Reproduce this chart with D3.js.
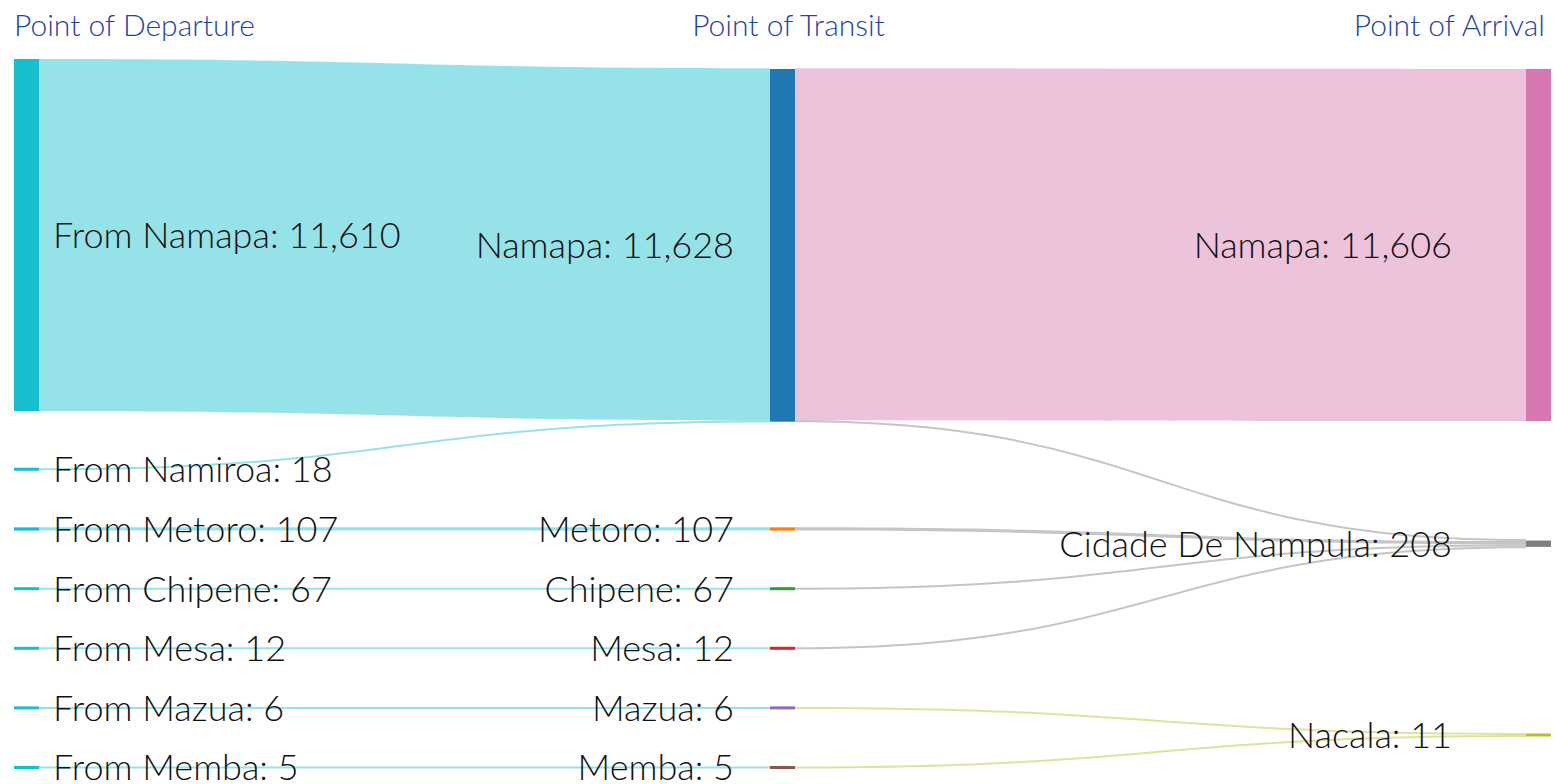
<!DOCTYPE html>
<html>
<head>
<meta charset="utf-8">
<script src="https://cdn.jsdelivr.net/npm/d3@7"></script>
<style>
  body { margin: 0; background: #fff; }
  svg text { font-family: Lato, "Open Sans", sans-serif; font-weight: 300; }
</style>
</head>
<body>
<div id="chart"></div>
<script>
// column titles
var stageTitles = ["Point of Departure", "Point of Transit", "Point of Arrival"];

// nodes per column
var departure = ["From Namapa", "From Namiroa", "From Metoro", "From Chipene", "From Mesa", "From Mazua", "From Memba"];
var transit = ["Namapa", "Metoro", "Chipene", "Mesa", "Mazua", "Memba"];
var arrival = ["Namapa", "Cidade De Nampula", "Nacala"];

// departure -> transit flows (indices into the arrays above)
var leg1Source = [0, 1, 2, 3, 4, 5, 6];
var leg1Target = [0, 0, 1, 2, 3, 4, 5];
var leg1Value = [11610, 18, 107, 67, 12, 6, 5];

// transit -> arrival flows
var leg2Source = [0, 0, 1, 2, 3, 4, 5];
var leg2Target = [0, 1, 1, 1, 1, 2, 2];
var leg2Value = [11606, 22, 107, 67, 12, 6, 5];

var departureColor = "#17becf";
var transitColors = ["#1f77b4", "#ff7f0e", "#2ca02c", "#d62728", "#9467bd", "#8c564b"];
var arrivalColors = ["#d678b0", "#7f7f7f", "#bcbd22"];

var width = 1555, height = 784;
var yTop = 59, yBottom = 769, colInset = 10;
var nodeW = 25, pad = 56.6, minNode = 3, minLink = 2;

var svg = d3.select("#chart").append("svg")
    .attr("width", width)
    .attr("height", height);

var colX = d3.scaleLinear().domain([0, 2]).range([14, width - 4 - nodeW]);

// build the graph
var columns = [departure, transit, arrival].map(function(names, c) {
    return names.map(function(n, i) {
        return { name: n, col: c, index: i, inLinks: [], outLinks: [] };
    });
});
columns[0].forEach(function(n) { n.color = departureColor; });
columns[1].forEach(function(n, i) { n.color = transitColors[i]; });
columns[2].forEach(function(n, i) { n.color = arrivalColors[i]; });

var links = [];
function addLinks(c, src, tgt, val) {
    src.forEach(function(s, i) {
        var l = { source: columns[c][s], target: columns[c + 1][tgt[i]], value: val[i], leg: c };
        l.source.outLinks.push(l);
        l.target.inLinks.push(l);
        links.push(l);
    });
}
addLinks(0, leg1Source, leg1Target, leg1Value);
addLinks(1, leg2Source, leg2Target, leg2Value);

columns.forEach(function(col) {
    col.forEach(function(n) {
        n.value = Math.max(d3.sum(n.inLinks, function(l) { return l.value; }),
                           d3.sum(n.outLinks, function(l) { return l.value; }));
        n.x0 = colX(n.col);
        n.x1 = n.x0 + nodeW;
    });
});

// find the value->pixel factor so the first column just fits
function packedHeight(k) {
    return d3.sum(columns[0], function(n) { return Math.max(minNode, n.value * k); }) +
        (columns[0].length - 1) * pad;
}
var lo = 0, hi = 1;
for (var it = 0; it < 60; it++) {
    var mid = (lo + hi) / 2;
    if (packedHeight(mid) > yBottom - yTop) hi = mid; else lo = mid;
}
var h = d3.scaleLinear().domain([0, 1]).range([0, lo]);

columns.forEach(function(col) {
    col.forEach(function(n) { n.h = Math.max(minNode, h(n.value)); });
});
links.forEach(function(l) { l.width = Math.max(minLink, h(l.value)); });

function placeOutLinks(n) {
    var stack = d3.sum(n.outLinks, function(l) { return l.width; });
    var y = n.y0 + (n.h - stack) / 2;
    n.outLinks.forEach(function(l) { l.sy0 = y; y += l.width; l.sy1 = y; });
}
function placeInLinks(n) {
    var stack = d3.sum(n.inLinks, function(l) { return l.width; });
    var y = n.y0 + (n.h - stack) / 2;
    n.inLinks.forEach(function(l) { l.ty0 = y; y += l.width; l.ty1 = y; });
}

// first column: stacked from the top
var y = yTop;
columns[0].forEach(function(n) {
    n.y0 = y; n.y1 = y + n.h; y = n.y1 + pad;
    placeOutLinks(n);
});

// later columns: centre each node on the flows that feed it,
// keep them a little below the top edge
for (var c = 1; c < columns.length; c++) {
    var col = columns[c];
    col.forEach(function(n) {
        var w = d3.sum(n.inLinks, function(l) { return l.value; });
        var cy = d3.sum(n.inLinks, function(l) { return (l.sy0 + l.sy1) / 2 * l.value; }) / w;
        n.y0 = cy - n.h / 2; n.y1 = n.y0 + n.h;
    });
    var sorted = col.slice().sort(function(a, b) { return a.y0 - b.y0; });
    var yy = yTop + colInset;
    sorted.forEach(function(n) {
        if (n.y0 < yy) { n.y0 = yy; n.y1 = yy + n.h; }
        yy = n.y1 + pad;
    });
    col.forEach(function(n) { placeInLinks(n); placeOutLinks(n); });
}

function ribbon(l) {
    var x0 = l.source.x1, x1 = l.target.x0, xm = (x0 + x1) / 2;
    var p = d3.path();
    p.moveTo(x0, l.sy0);
    p.bezierCurveTo(xm, l.sy0, xm, l.ty0, x1, l.ty0);
    p.lineTo(x1, l.ty1);
    p.bezierCurveTo(xm, l.ty1, xm, l.sy1, x0, l.sy1);
    p.closePath();
    return p.toString();
}

svg.append("g").selectAll("path")
    .data(links)
    .enter()
    .append("path")
    .attr("d", ribbon)
    .attr("fill", function(l) { return l.leg === 0 ? l.source.color : l.target.color; })
    .attr("fill-opacity", 0.45);

var allNodes = [].concat(columns[0], columns[1], columns[2]);

svg.append("g").selectAll("rect")
    .data(allNodes)
    .enter()
    .append("rect")
    .attr("x", function(n) { return n.x0; })
    .attr("y", function(n) { return n.y0; })
    .attr("width", nodeW)
    .attr("height", function(n) { return n.h; })
    .attr("fill", function(n) { return n.color; });

var fmt = d3.format(",");
svg.append("g").selectAll("text")
    .data(allNodes)
    .enter()
    .append("text")
    .attr("x", function(n) {
        if (n.col === 0) return n.x1 + 14;
        if (n.col === 1) return n.x0 - 36;
        return n.x0 - 74;
    })
    .attr("y", function(n) { return (n.y0 + n.y1) / 2; })
    .attr("dy", "0.36em")
    .attr("text-anchor", function(n) { return n.col === 0 ? "start" : "end"; })
    .attr("font-size", 36)
    .attr("fill", "#111")
    .text(function(n) { return n.name + ": " + fmt(n.value); });

svg.append("g").selectAll("text")
    .data(stageTitles)
    .enter()
    .append("text")
    .attr("x", function(d, i) {
        if (i === 0) return colX(0);
        if (i === 1) return colX(1) + nodeW / 2 + 6;
        return colX(2) + nodeW - 6;
    })
    .attr("y", 36)
    .attr("text-anchor", function(d, i) { return ["start", "middle", "end"][i]; })
    .attr("font-size", 30)
    .attr("fill", "#1f43a6")
    .text(function(d) { return d; });
</script>
</body>
</html>
